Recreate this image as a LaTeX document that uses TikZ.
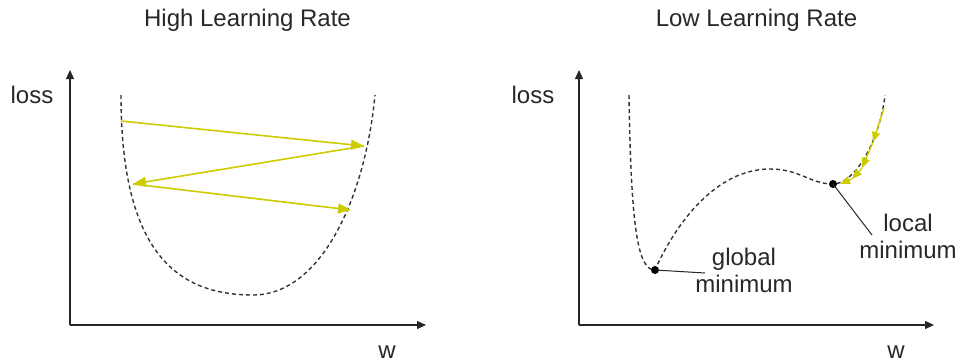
\documentclass[tikz,border=0pt]{standalone}
\usepackage{fontspec}
\setmainfont{Liberation Sans}
\usetikzlibrary{arrows.meta}
\definecolor{ylw}{RGB}{204,204,0}
\definecolor{txt}{RGB}{40,40,40}
\begin{document}
\begin{tikzpicture}[x=1pt,y=-1pt,
  axis/.style={line width=1.3pt, black!85, -{Triangle[length=9pt,width=8pt]}},
  curve/.style={line width=1.4pt, black!80, dash pattern=on 4pt off 3pt},
  jump/.style={ylw, line width=1.6pt, -{Triangle[length=13pt,width=10pt]}},
  smallstep/.style={ylw, line width=1.4pt, -{Triangle[length=10pt,width=8pt]}},
  lbl/.style={font=\fontsize{24}{27}\selectfont, text=txt, inner sep=0pt},
  dot/.style={circle, fill=black, inner sep=0pt, minimum size=8pt},
  pointer/.style={line width=1pt, black!85}]
\useasboundingbox (0,0) rectangle (960,362);
% ---- titles and axis labels
\node[lbl, anchor=base] (t1) at (247.5,26) {High Learning Rate};
\node[lbl, anchor=base] (t2) at (756.5,26) {Low Learning Rate};
\node[lbl, anchor=base] (ly1) at (32,103) {loss};
\node[lbl, anchor=base] (ly2) at (533,103) {loss};
\node[lbl, anchor=base] (lx1) at (387,358) {w};
\node[lbl, anchor=base] (lx2) at (896,358) {w};
% ---- left axes
\coordinate (L0) at (70,325);
\coordinate (Ly) at (70,70);
\coordinate (Lx) at (426,325);
\draw[axis] (L0) -- (Ly);
\draw[axis] (L0) -- (Lx);
% ---- right axes
\coordinate (R0) at (579,325);
\coordinate (Ry) at (579,70);
\coordinate (Rx) at (934,325);
\draw[axis] (R0) -- (Ry);
\draw[axis] (R0) -- (Rx);
% ---- left curve
\coordinate (LA) at (121,95);
\coordinate (LB) at (253,295);
\coordinate (LC) at (375,95);
\draw[curve] (LA) .. controls (121,250) and (175,295) .. (LB)
  .. controls (320,295) and (365,200) .. (LC);
% ---- left jumps
\coordinate (P1) at (121,121);
\coordinate (P2) at (364,146);
\coordinate (P3) at (133,184);
\coordinate (P4) at (351,210);
\draw[jump] (P1) -- (P2);
\draw[jump] (P2) -- (P3);
\draw[jump] (P3) -- (P4);
% ---- right curve
\coordinate (RA) at (629,95);
\coordinate (RG) at (655,270);
\coordinate (RM) at (770,169);
\coordinate (RL) at (833,184);
\coordinate (RB) at (885,95);
\draw[curve] (RA) .. controls (631,230) and (638,270) .. (RG)
  .. controls (675,225) and (715,169) .. (RM)
  .. controls (800,169) and (810,184) .. (RL)
  .. controls (855,184) and (880,140) .. (RB);
% ---- right small steps
\coordinate (C0) at (884,108);
\coordinate (C1) at (873,142);
\coordinate (C2) at (862,168);
\coordinate (C3) at (852,179);
\coordinate (C4) at (840,184);
\draw[smallstep] (C0) -- (C1);
\draw[smallstep] (C1) -- (C2);
\draw[smallstep] (C2) -- (C3);
\draw[smallstep] (C3) -- (C4);
% ---- minima
\node[dot] (gmin) at (RG) {};
\node[dot] (lmin) at (RL) {};
\node[lbl, align=center] (gtext) at (744,270) {global\\minimum};
\node[lbl, align=center] (ltext) at (908,236) {local\\minimum};
\coordinate (gend) at (705,273);
\coordinate (lend) at (872,235);
\draw[pointer] (gmin.center) -- (gend);
\draw[pointer] (lmin.center) -- (lend);
\end{tikzpicture}
\end{document}
